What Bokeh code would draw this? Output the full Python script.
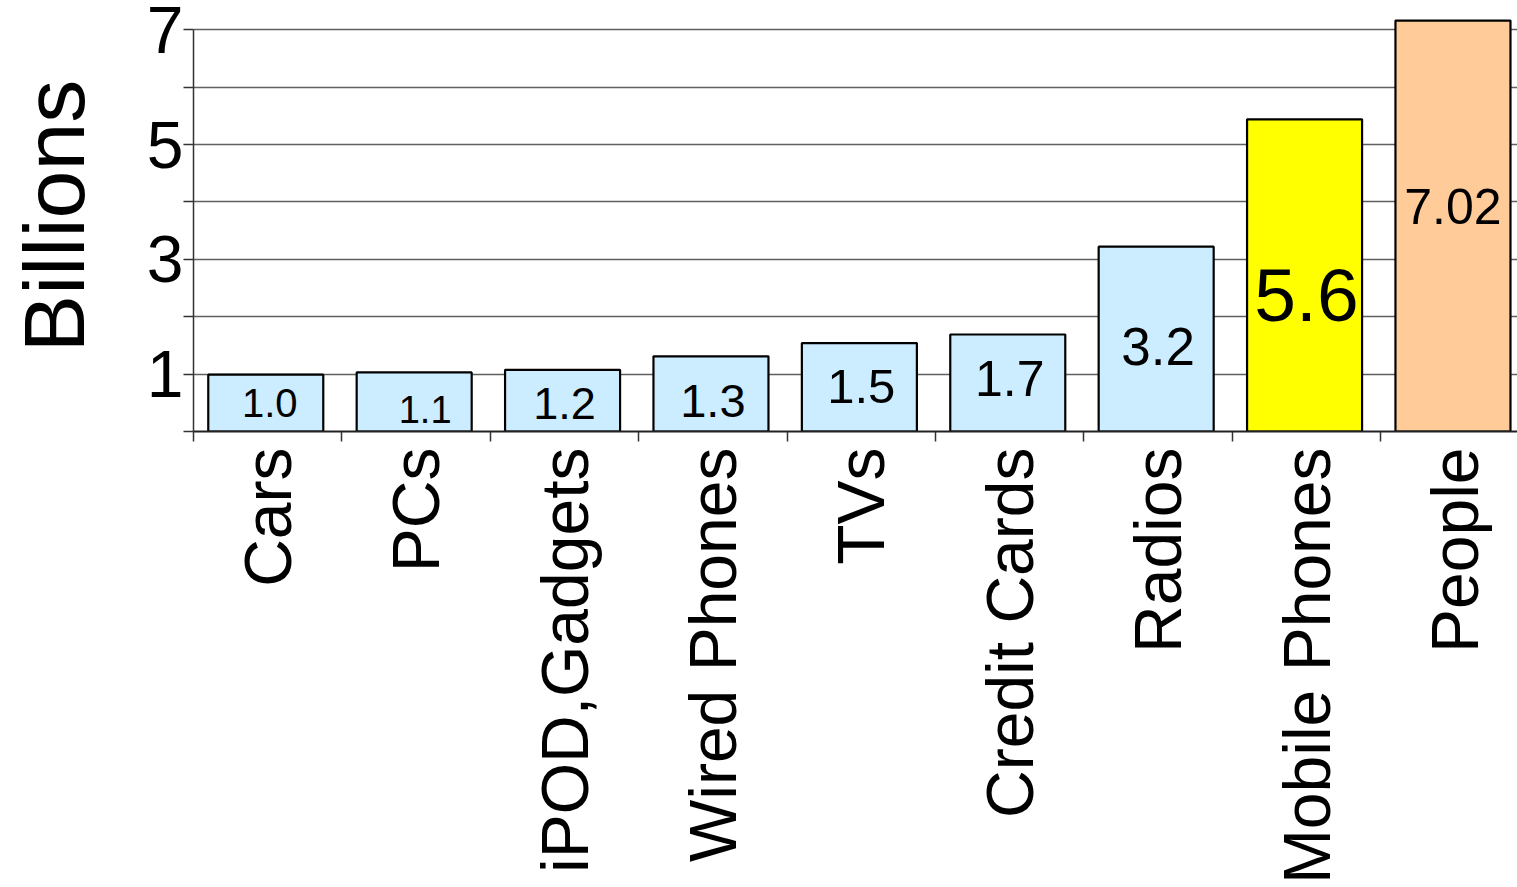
import math
from bokeh.plotting import figure
from bokeh.models import Range1d, FixedTicker, ColumnDataSource
from bokeh.core.properties import value
from bokeh.embed import file_html
from bokeh.resources import INLINE

# ---- data ----
categories = ["Cars", "PCs", "iPOD,Gadgets", "Wired Phones", "TVs",
              "Credit Cards", "Radios", "Mobile Phones", "People"]
heights = [0.99, 1.03, 1.075, 1.31, 1.54, 1.69, 3.22, 5.44, 7.16]
labels = ["1.0", "1.1", "1.2", "1.3", "1.5", "1.7", "3.2", "5.6", "7.02"]
y_ticks = [0, 1, 2, 3, 4, 5, 6, 7]
y_tick_labels = ["", "1", "", "3", "", "5", "", "7"]
y_title = "Billions"

# ---- styling ----
colors = ["#CCECFF"] * 7 + ["#FFFF00", "#FFCC99"]
label_sizes = ["40px", "38px", "45px", "47px", "49px", "50px", "53px", "75px", "50px"]
label_y = [0.50, 0.39, 0.49, 0.54, 0.79, 0.92, 1.48, 2.37, 3.92]
label_dx = [2, 9, 0, 0, 0, 0, 0, 0, -2]
FONT = "Liberation Sans"
CAT_W = 148.4      # pixels per category
UNIT_Y = 57.39     # pixels per billion

n = len(categories)
centers = [i + 0.5 for i in range(n)]
bar_x = [c - 0.013 for c in centers]

src = ColumnDataSource(dict(x=bar_x, top=heights, color=colors))
lab = ColumnDataSource(dict(x=centers, y=label_y, text=labels,
                            size=label_sizes, dx=label_dx))

p = figure(width=1517, height=887, output_backend="svg", toolbar_location=None,
           x_range=Range1d(0, 1324 / CAT_W), y_range=Range1d(0, 431 / UNIT_Y),
           min_border_left=193, min_border_right=0, min_border_top=0,
           min_border_bottom=456)
p.outline_line_color = None
p.background_fill_color = "white"
p.border_fill_color = "white"

p.vbar(x="x", top="top", bottom=0, width=0.775, source=src,
       fill_color="color", line_color="black", line_width=2.2)

p.text(x="x", y="y", text="text", source=lab, text_font=value(FONT),
       text_font_size="size", text_align="center", text_baseline="middle",
       x_offset="dx", text_color="black")

# y axis
ya = p.yaxis[0]
ya.ticker = FixedTicker(ticks=y_ticks)
ya.major_label_overrides = {t: s for t, s in zip(y_ticks, y_tick_labels)}
ya.bounds = (0, 7)
ya.axis_line_color = "#333333"
ya.axis_line_width = 1.5
ya.major_tick_line_color = "#333333"
ya.major_tick_line_width = 1.5
ya.major_tick_out = 10
ya.major_tick_in = 0
ya.minor_tick_line_color = None
ya.major_label_text_font = FONT
ya.major_label_text_font_size = "66px"
ya.major_label_text_color = "black"
ya.major_label_standoff = 0
ya.axis_label = y_title
ya.axis_label_text_font = FONT
ya.axis_label_text_font_size = "86px"
ya.axis_label_text_font_style = "normal"
ya.axis_label_text_color = "black"
ya.axis_label_standoff = 42

# x axis
xa = p.xaxis[0]
xa.ticker = FixedTicker(ticks=centers, minor_ticks=list(range(n + 1)))
xa.major_label_overrides = {c: s for c, s in zip(centers, categories)}
xa.major_label_orientation = math.pi / 2
xa.major_tick_line_color = None
xa.major_tick_out = 10
xa.major_tick_in = 0
xa.minor_tick_line_color = "#333333"
xa.minor_tick_line_width = 1.5
xa.minor_tick_out = 10
xa.minor_tick_in = 0
xa.axis_line_color = "#222222"
xa.axis_line_width = 2
xa.major_label_text_font = FONT
xa.major_label_text_font_size = "66px"
xa.major_label_text_color = "black"
xa.major_label_standoff = 6

p.xgrid.grid_line_color = None
p.ygrid.ticker = FixedTicker(ticks=y_ticks)
p.ygrid.grid_line_color = "#606060"
p.ygrid.grid_line_width = 1.4

open("out.html", "w").write(file_html(p, INLINE))
